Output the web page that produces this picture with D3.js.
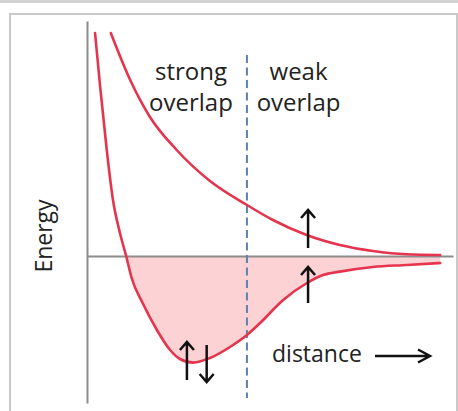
<!DOCTYPE html>
<html>
<head>
<meta charset="utf-8">
<script src="https://cdn.jsdelivr.net/npm/d3@7/dist/d3.min.js"></script>
<style>
  html, body { margin: 0; padding: 0; background: #fff; }
  svg { display: block; }
  text { font-family: "Open Sans", "Noto Sans", sans-serif; fill: #222; }
</style>
</head>
<body>
<svg id="chart" width="458" height="411"></svg>
<script>
// Bonding (lower) potential curve: distance r, energy E
const bondingR = [0.22, 0.36, 0.54, 0.71, 0.90, 1.07, 1.22, 1.52, 1.91, 2.27, 2.54, 2.90, 3.36, 3.99, 4.37, 4.73, 5.36, 6.01, 6.45, 6.91, 7.81, 8.74, 9.65];
const bondingE = [11.15, 8.45, 5.3, 2.8, 1.15, 0, -1.1, -2.35, -3.7, -4.7, -5.15, -5.33, -5.1, -4.45, -3.95, -3.35, -2.2, -1.35, -0.95, -0.78, -0.55, -0.45, -0.35];

// Antibonding (upper) repulsive curve
const antiR = [0.65, 1.18, 1.72, 2.45, 3.36, 4.37, 5.08, 6.00, 6.91, 7.81, 8.74, 9.65];
const antiE = [11.15, 8.8, 6.95, 5.3, 3.75, 2.55, 1.8, 1.05, 0.55, 0.25, 0.085, 0.05];

// Boundary between strong and weak overlap
const boundaryR = 4.37;

// Spin arrows: position r, from E0 to E1 (arrowhead at E1)
const spinR  = [6.04, 6.04, 2.73, 3.27];
const spinE0 = [0.4, -2.35, -6.2, -4.45];
const spinE1 = [2.3, -0.55, -4.3, -6.3];

const regionLabels = [["strong", "overlap"], ["weak", "overlap"]];
const regionLabelR = [2.84, 5.78];
const yLabel = "Energy";
const xLabel = "distance";

const W = 458, H = 411;
const svg = d3.select("#chart");

const x = d3.scaleLinear().domain([0, 10]).range([87, 453]);
const y = d3.scaleLinear().domain([-7.35, 11.75]).range([403, 21]);

// Page frame
svg.append("rect").attr("x", 0).attr("y", 0).attr("width", W).attr("height", 3).attr("fill", "#d2d2d2");
svg.append("path")
  .attr("d", `M10,${H} L10,14 L457,14 L457,${H}`)
  .attr("fill", "none").attr("stroke", "#c9c9c9").attr("stroke-width", 2);

const red = "#e5344e";
const bonding = bondingR.map((r, i) => [r, bondingE[i]]);
const anti = antiR.map((r, i) => [r, antiE[i]]);
const curve = d3.curveMonotoneX;

// Shaded bonding region below zero energy
svg.append("clipPath").attr("id", "below")
  .append("rect").attr("x", x(0)).attr("y", y(0))
  .attr("width", x(10) - x(0)).attr("height", H - y(0));
svg.append("path")
  .datum(bonding)
  .attr("clip-path", "url(#below)")
  .attr("fill", "#fcd2d5")
  .attr("d", d3.area().curve(curve).x(d => x(d[0])).y0(y(0)).y1(d => y(d[1])));

// Axes (bare lines)
const axisStyle = g => {
  g.select(".domain").attr("stroke", "#8c8c8c").attr("stroke-width", 2);
};
svg.append("g").attr("transform", `translate(0,${y(0)})`)
  .call(d3.axisBottom(x).tickValues([]).tickSizeOuter(0)).call(axisStyle);
svg.append("g").attr("transform", `translate(${x(0)},0)`)
  .call(d3.axisLeft(y).tickValues([]).tickSizeOuter(0)).call(axisStyle);

// Dashed boundary line
svg.append("line")
  .attr("x1", x(boundaryR)).attr("x2", x(boundaryR))
  .attr("y1", 55).attr("y2", 398)
  .attr("stroke", "#5f82ad").attr("stroke-width", 2)
  .attr("stroke-dasharray", "8,4.5");

// Potential curves
const line = d3.line().curve(curve).x(d => x(d[0])).y(d => y(d[1]));
[bonding, anti].forEach(data => {
  svg.append("path").datum(data)
    .attr("fill", "none").attr("stroke", red)
    .attr("stroke-width", 2.6).attr("stroke-linecap", "round")
    .attr("d", line);
});

// Spin arrows
spinR.forEach((r, i) => {
  const px = x(r), a = y(spinE0[i]), b = y(spinE1[i]);
  const dir = b < a ? 1 : -1;
  svg.append("path")
    .attr("d", `M${px},${a} L${px},${b} M${px - 7},${b + dir * 8} L${px},${b} L${px + 7},${b + dir * 8}`)
    .attr("fill", "none").attr("stroke", "#111").attr("stroke-width", 2.5)
    .attr("stroke-linejoin", "miter");
});

// Region labels
regionLabels.forEach((lines, i) => {
  lines.forEach((t, j) => {
    svg.append("text")
      .attr("x", x(regionLabelR[i])).attr("y", 80 + j * 31)
      .attr("text-anchor", "middle").attr("font-size", 24)
      .text(t);
  });
});

// Axis titles
svg.append("text")
  .attr("transform", `translate(52,236) rotate(-90)`)
  .attr("text-anchor", "middle").attr("font-size", 23)
  .text(yLabel);
svg.append("text")
  .attr("x", 272).attr("y", 362).attr("font-size", 23)
  .text(xLabel);
svg.append("path")
  .attr("d", "M375,356 L430,356 M418,349.5 L430,356 L418,362.5")
  .attr("fill", "none").attr("stroke", "#111").attr("stroke-width", 2.5);
</script>
</body>
</html>
